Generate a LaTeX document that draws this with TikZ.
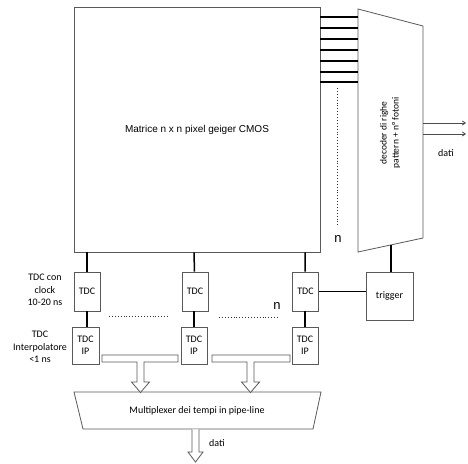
\documentclass[tikz,border=0pt]{standalone}
\usepackage{fontspec}
\setmainfont{Carlito}
\newfontfamily\arialf{Liberation Sans}
\usetikzlibrary{arrows.meta}
\begin{document}
\begin{tikzpicture}[x=1pt,y=-1pt,
  box/.style={draw=black!65,line width=0.8pt,fill=white,inner sep=0pt,font=\fontsize{10}{12}\selectfont,align=center},
  conn/.style={line width=1.5pt,black},
  outl/.style={draw=black!65,line width=0.8pt,fill=white},
  lbl/.style={font=\fontsize{10}{12.5}\selectfont,align=center,inner sep=0pt},
  dots/.style={line width=1pt,dash pattern=on 0.9pt off 2pt,black!80},
  bigN/.style={font=\arialf\fontsize{13}{13}\selectfont,inner sep=0pt}]
\useasboundingbox (0,0) rectangle (468,463);
% matrix
\node[box,minimum width=246pt,minimum height=245pt,font=\arialf\fontsize{10}{12}\selectfont] (mat) at (197,129.5) {Matrice n x n pixel geiger CMOS};
% decoder
\coordinate (dtl) at (358,9);
\coordinate (dtr) at (423,26);
\coordinate (dbr) at (423,238);
\coordinate (dbl) at (358,252);
\draw[outl] (dtl) -- (dtr) -- (dbr) -- (dbl) -- cycle;
\node[lbl,rotate=90,font=\fontsize{9.5}{12}\selectfont] (dec) at (390,133) {decoder di righe\\pattern + n° fotoni};
% row lines
\foreach \yy in {17,28,39,50,61,72,82}{
  \draw[conn] (mat.east |- 0,\yy) -- (358,\yy);
}
\coordinate (dvt) at (337,88);
\coordinate (dvb) at (337,226);
\draw[dots] (dvt) -- (dvb);
\node[bigN] (n1) at (338,239) {n};
% decoder outputs
\coordinate (o1) at (466,123);
\coordinate (o2) at (466,134);
\draw[line width=0.8pt,black!70,-{Straight Barb[length=3pt,width=4pt]}] (dtr |- o1) -- (o1);
\draw[line width=0.8pt,black!70,-{Straight Barb[length=3pt,width=4pt]}] (dtr |- o2) -- (o2);
\node[lbl] (dati1) at (446,153) {dati};
% trigger
\node[box,minimum width=47pt,minimum height=48pt] (trig) at (389.5,296) {trigger};
\coordinate (decb) at (391,245);
\draw[conn] (decb) -- (trig.north -| decb);
% TDC boxes
\node[box,minimum width=26pt,minimum height=39pt] (t1) at (87,291.5) {TDC};
\node[box,minimum width=26pt,minimum height=39pt] (t2) at (195,291.5) {TDC};
\node[box,minimum width=26pt,minimum height=39pt] (t3) at (305.5,291.5) {TDC};
\node[box,minimum width=27pt,minimum height=37pt] (i1) at (85.5,345.5) {TDC\\IP};
\node[box,minimum width=26pt,minimum height=37pt] (i2) at (194,345.5) {TDC\\IP};
\node[box,minimum width=26pt,minimum height=37pt] (i3) at (305,345.5) {TDC\\IP};
\draw[conn] (mat.south -| t1) -- (t1);
\draw[conn] (mat.south -| i2) -- (t2);
\draw[conn] (mat.south -| i3) -- (t3);
\draw[conn] (t1.south) -- (t1.south |- i1.north);
\draw[conn] (t2.south -| i2) -- (i2);
\draw[conn] (t3.south -| i3) -- (i3);
\draw[conn] (t3.east) -- (t3.east -| trig.west);
% dotted separators
\coordinate (d1a) at (109,316);
\coordinate (d1b) at (168,316);
\coordinate (d2a) at (219,317);
\coordinate (d2b) at (279,317);
\draw[dots] (d1a) -- (d1b);
\draw[dots] (d2a) -- (d2b);
\node[bigN] (n2) at (277,306) {n};
% labels
\node[lbl] (lab1) at (45,290) {TDC con\\clock\\10-20 ns};
\node[lbl] (lab2) at (40,347) {TDC\\Interpolatore\\<1 ns};
% multiplexer
\coordinate (mtl) at (74,392);
\coordinate (mtr) at (321,392);
\coordinate (mbr) at (313,429);
\coordinate (mbl) at (83,429);
\draw[outl] (mtl) -- (mtr) -- (mbr) -- (mbl) -- cycle;
\node[lbl] (mux) at (197,410.5) {Multiplexer dei tempi in pipe-line};
% buses
\draw[outl] (102,355) -- (178,355) -- (178,362) -- (144,362) -- (144,382) -- (149.5,382) -- (140.5,392.5) -- (131.5,382) -- (137,382) -- (137,362) -- (102,362) -- cycle;
\draw[outl] (212,355) -- (290,355) -- (290,362) -- (254,362) -- (254,382) -- (259.5,382) -- (250.5,392.5) -- (241.5,382) -- (247,382) -- (247,362) -- (212,362) -- cycle;
% output arrow
\draw[outl] (192,429.4) -- (192,452) -- (188,452) -- (195.5,462) -- (203,452) -- (199,452) -- (199,429.4);
\node[lbl] (dati2) at (217,443) {dati};
\end{tikzpicture}
\end{document}
